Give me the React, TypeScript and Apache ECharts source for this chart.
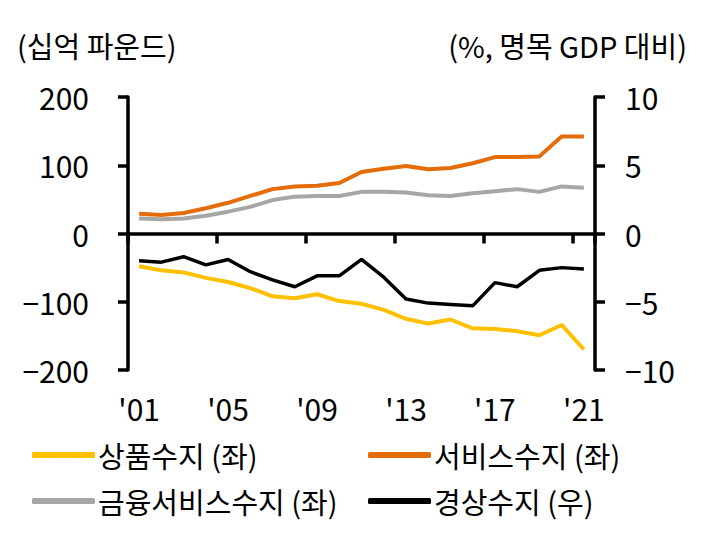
import React, { useEffect, useRef } from "react";
import * as echarts from "echarts";

const categories = ["'01","'02","'03","'04","'05","'06","'07","'08","'09","'10","'11","'12","'13","'14","'15","'16","'17","'18","'19","'20","'21"];
const goods = [-48,-54,-57,-65,-71,-80,-92,-95,-89,-99,-103,-112,-125,-132,-126,-139,-140,-143,-149,-134,-170];
const services = [29,27,30,37,45,55,65,69,70,74,90,95,99,94,96,103,112,112,113,142,142];
const financial = [22,21,22,26,32,39,49,54,55,55,61,61,60,56,55,59,62,65,61,69,67];
const current = [-2.0,-2.1,-1.7,-2.3,-1.9,-2.8,-3.4,-3.9,-3.1,-3.1,-1.9,-3.2,-4.8,-5.1,-5.2,-5.3,-3.6,-3.9,-2.7,-2.5,-2.6];

const names = ["상품수지 (좌)", "서비스수지 (좌)", "금융서비스수지 (좌)", "경상수지 (우)"];
const colors = ["#FFC000", "#E46C0A", "#A6A6A6", "#000000"];
const leftTitle = "(십억 파운드)";
const rightTitle = "(%, 명목 GDP 대비)";

const FONT = "'Noto Sans CJK KR', 'Noto Sans', sans-serif";

export default function App() {
  const ref = useRef<HTMLDivElement>(null);
  useEffect(() => {
    if (!ref.current) return;
    const chart = echarts.init(ref.current, null, { renderer: "svg" });
    const fmt = (v: number) => String(v).replace("-", "−");
    const axisLine = { show: true, lineStyle: { color: "#000", width: 3.5 } };
    const axisTick = { show: true, length: 10, inside: false, lineStyle: { color: "#000", width: 3.5 } };
    const seriesData = [goods, services, financial, current];
    const legendBase = {
      orient: "vertical",
      top: 440,
      padding: 0,
      icon: "roundRect",
      itemWidth: 63,
      itemHeight: 6,
      itemGap: 16,
      textStyle: { fontSize: 29, color: "#000", fontFamily: FONT, lineHeight: 30, padding: [0, 0, 0, -2] },
    };
    chart.setOption({
      animation: false,
      backgroundColor: "#fff",
      textStyle: { fontFamily: FONT },
      grid: { left: 128, right: 108, top: 97, bottom: 166, containLabel: false },
      legend: [
        { ...legendBase, data: [names[0], names[2]], left: 32 },
        { ...legendBase, data: [names[1], names[3]], left: 368 },
      ],
      graphic: [
        { type: "text", left: 17, top: 30, style: { text: leftTitle, font: `29px ${FONT}`, fill: "#000" } },
        { type: "text", right: 16, top: 30, style: { text: rightTitle, font: `29px ${FONT}`, fill: "#000" } },
      ],
      xAxis: [
        {
          type: "category",
          data: categories,
          boundaryGap: true,
          position: "bottom",
          axisLine: { ...axisLine, onZero: true, onZeroAxisIndex: 0 },
          axisTick: { ...axisTick, interval: 3 },
          axisLabel: { show: false },
          splitLine: { show: false },
          z: 1,
        },
        {
          type: "category",
          data: categories,
          boundaryGap: true,
          position: "bottom",
          axisLine: { show: false, onZero: false },
          axisTick: { show: false },
          axisLabel: { show: true, interval: 3, margin: 23, fontSize: 30, color: "#000", fontFamily: FONT },
          splitLine: { show: false },
        },
      ],
      yAxis: [
        {
          type: "value",
          min: -200,
          max: 200,
          interval: 100,
          position: "left",
          axisLine: { ...axisLine, onZero: false },
          axisTick,
          splitLine: { show: false },
          axisLabel: { margin: 39, fontSize: 30, color: "#000", fontFamily: FONT, formatter: fmt },
        },
        {
          type: "value",
          min: -10,
          max: 10,
          interval: 5,
          position: "right",
          axisLine: { ...axisLine, onZero: false },
          axisTick,
          splitLine: { show: false },
          axisLabel: { margin: 30, fontSize: 30, color: "#000", fontFamily: FONT, formatter: fmt },
        },
      ],
      series: seriesData.map((d, i) => ({
        name: names[i],
        type: "line",
        data: d,
        xAxisIndex: 0,
        yAxisIndex: i === 3 ? 1 : 0,
        symbol: "none",
        smooth: false,
        z: 3,
        itemStyle: { color: colors[i] },
        lineStyle: { color: colors[i], width: i === 3 ? 3.5 : 4 },
      })),
    });
    return () => chart.dispose();
  }, []);
  return <div ref={ref} style={{ position: "fixed", left: 0, top: 0, width: 703, height: 536 }} />;
}
